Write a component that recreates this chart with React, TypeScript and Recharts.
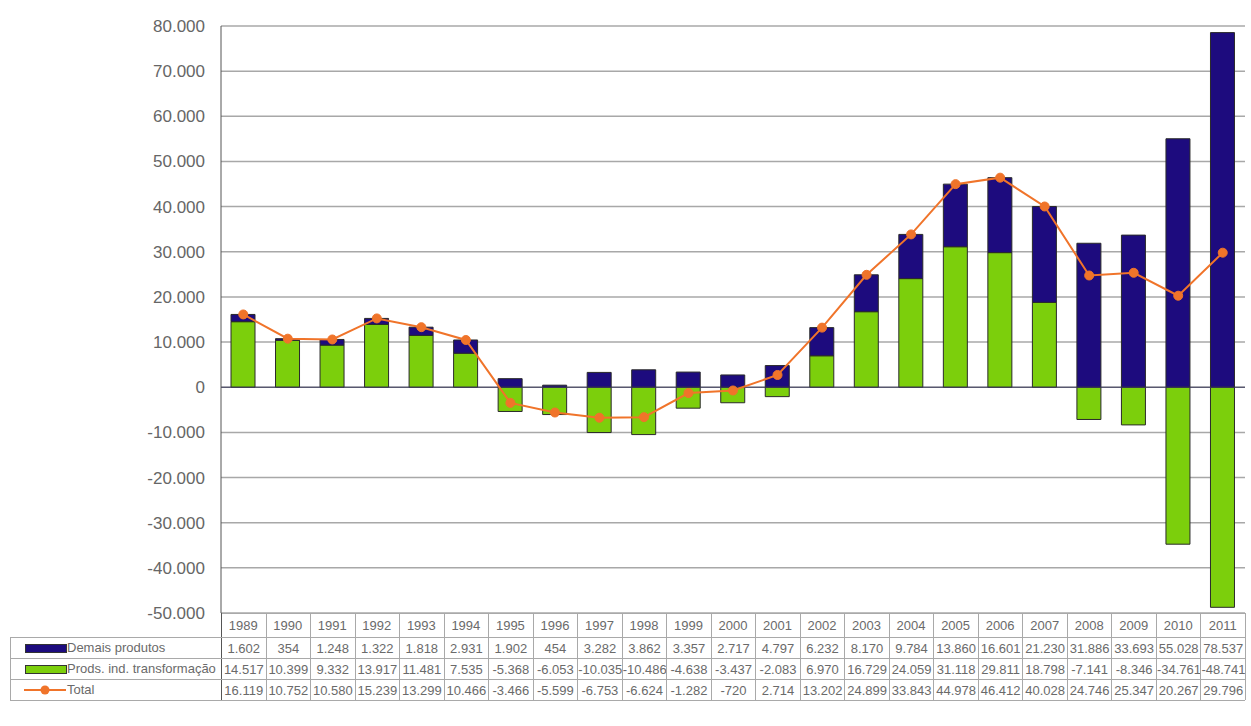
import React from "react";
import {
  ComposedChart,
  Bar,
  Line,
  XAxis,
  YAxis,
  CartesianGrid,
  ReferenceLine,
} from "recharts";

const years = [
  "1989", "1990", "1991", "1992", "1993", "1994", "1995", "1996", "1997", "1998", "1999", "2000",
  "2001", "2002", "2003", "2004", "2005", "2006", "2007", "2008", "2009", "2010", "2011",
];
const demais = [
  1602, 354, 1248, 1322, 1818, 2931, 1902, 454, 3282, 3862, 3357, 2717,
  4797, 6232, 8170, 9784, 13860, 16601, 21230, 31886, 33693, 55028, 78537,
];
const prods = [
  14517, 10399, 9332, 13917, 11481, 7535, -5368, -6053, -10035, -10486, -4638, -3437,
  -2083, 6970, 16729, 24059, 31118, 29811, 18798, -7141, -8346, -34761, -48741,
];
const total = [
  16119, 10752, 10580, 15239, 13299, 10466, -3466, -5599, -6753, -6624, -1282, -720,
  2714, 13202, 24899, 33843, 44978, 46412, 40028, 24746, 25347, 20267, 29796,
];
const yTicks = [-50000, -40000, -30000, -20000, -10000, 0, 10000, 20000, 30000, 40000, 50000, 60000, 70000, 80000];

const NAVY = "#1d0b7e";
const GREEN = "#7ccf0c";
const ORANGE = "#f0742a";
const FONT = "'Liberation Sans', Arial, sans-serif";

const fmt = (v: number) => {
  const s = Math.abs(v).toString().replace(/\B(?=(\d{3})+(?!\d))/g, ".");
  return v < 0 ? "-" + s : s;
};

const data = years.map((year, i) => ({
  year,
  demais: demais[i],
  prods: prods[i],
  total: total[i],
}));

// plot geometry
const PLOT_LEFT = 221;
const PLOT_RIGHT = 1245;
const PLOT_TOP = 26;
const PLOT_BOTTOM = 613;
const COL_W = (PLOT_RIGHT - PLOT_LEFT) / years.length;
const ROW_TOPS = [637, 658, 679];
const ROW_H = 21;
const LINE = "#a9a9a9";

function Swatch({ kind }: { kind: string }) {
  if (kind === "total") {
    return (
      <svg width={42} height={12} style={{ position: "absolute", left: 14, top: 5 }}>
        <line x1={0} y1={6} x2={42} y2={6} stroke={ORANGE} strokeWidth={2} />
        <circle cx={21} cy={6} r={4.5} fill={ORANGE} />
      </svg>
    );
  }
  return (
    <div
      style={{
        position: "absolute",
        left: 15,
        top: 7,
        width: 40,
        height: 7,
        background: kind === "demais" ? NAVY : GREEN,
        border: "1px solid #333",
      }}
    />
  );
}

function DataTable() {
  const rows = [
    { key: "demais", label: "Demais produtos", values: demais },
    { key: "prods", label: "Prods. ind. transformação", values: prods },
    { key: "total", label: "Total", values: total },
  ];
  const cell: React.CSSProperties = {
    position: "absolute",
    width: COL_W,
    height: ROW_H,
    lineHeight: ROW_H + "px",
    textAlign: "center",
    whiteSpace: "nowrap",
    overflow: "hidden",
    fontSize: 13,
    color: "#6a6a6a",
    fontFamily: FONT,
  };
  return (
    <>
      {/* header line under plot */}
      <div style={{ position: "absolute", left: PLOT_LEFT, top: PLOT_BOTTOM, width: PLOT_RIGHT - PLOT_LEFT, height: 1, background: LINE }} />
      {years.map((y, i) => (
        <div key={y} style={{ ...cell, left: PLOT_LEFT + i * COL_W, top: PLOT_BOTTOM + 2, height: 22, lineHeight: "22px" }}>
          {y}
        </div>
      ))}
      {/* vertical column lines */}
      {years.map((y, i) => (
        <div
          key={"v" + y}
          style={{ position: "absolute", left: PLOT_LEFT + (i + 1) * COL_W, top: PLOT_BOTTOM, width: 1, height: 700 - PLOT_BOTTOM, background: LINE }}
        />
      ))}
      <div style={{ position: "absolute", left: PLOT_LEFT, top: PLOT_BOTTOM, width: 1, height: 700 - PLOT_BOTTOM, background: "#555" }} />
      <div style={{ position: "absolute", left: 10, top: ROW_TOPS[0], width: 1, height: 700 - ROW_TOPS[0], background: LINE }} />
      {[...ROW_TOPS, 700].map((t) => (
        <div key={"h" + t} style={{ position: "absolute", left: 10, top: t, width: PLOT_RIGHT - 10, height: 1, background: LINE }} />
      ))}
      {rows.map((r, ri) => (
        <React.Fragment key={r.key}>
          <div style={{ position: "absolute", left: 10, top: ROW_TOPS[ri], width: PLOT_LEFT - 10, height: ROW_H }}>
            <Swatch kind={r.key} />
            <span
              style={{
                position: "absolute",
                left: 57,
                top: 0,
                lineHeight: ROW_H + "px",
                fontSize: 13,
                color: "#6a6a6a",
                fontFamily: FONT,
                whiteSpace: "nowrap",
              }}
            >
              {r.label}
            </span>
          </div>
          {r.values.map((v, i) => (
            <div key={r.key + i} style={{ ...cell, left: PLOT_LEFT + i * COL_W + 1, top: ROW_TOPS[ri] + 1, width: COL_W - 1 }}>
              {fmt(v)}
            </div>
          ))}
        </React.Fragment>
      ))}
    </>
  );
}

export default function App() {
  return (
    <div style={{ position: "absolute", left: 0, top: 0, width: 1251, height: 726, background: "#fff", overflow: "hidden" }}>
      <ComposedChart
        width={1251}
        height={726}
        data={data}
        stackOffset="sign"
        margin={{ top: PLOT_TOP, right: 1251 - PLOT_RIGHT, bottom: 726 - PLOT_BOTTOM, left: PLOT_LEFT - 80 }}
        barCategoryGap={0}
      >
        <CartesianGrid vertical={false} stroke="#a8a8a8" strokeWidth={1.5} />
        <XAxis dataKey="year" hide />
        <YAxis
          width={80}
          domain={[-50000, 80000]}
          ticks={yTicks}
          tickFormatter={fmt}
          tickLine={false}
          tickMargin={10}
          axisLine={{ stroke: "#555" }}
          tick={{ fontSize: 17, fill: "#666", fontFamily: FONT }}
          interval={0}
        />
        <ReferenceLine y={0} stroke="#3a3a5a" strokeWidth={1} />
        <Bar dataKey="prods" stackId="a" fill={GREEN} stroke="#2a2a2a" strokeWidth={1} barSize={24} isAnimationActive={false} />
        <Bar dataKey="demais" stackId="a" fill={NAVY} stroke="#2a2a2a" strokeWidth={1} barSize={24} isAnimationActive={false} />
        <Line
          dataKey="total"
          type="linear"
          stroke={ORANGE}
          strokeWidth={2}
          dot={{ r: 4.5, fill: ORANGE, stroke: ORANGE, strokeWidth: 1 }}
          isAnimationActive={false}
        />
      </ComposedChart>
      <DataTable />
    </div>
  );
}
